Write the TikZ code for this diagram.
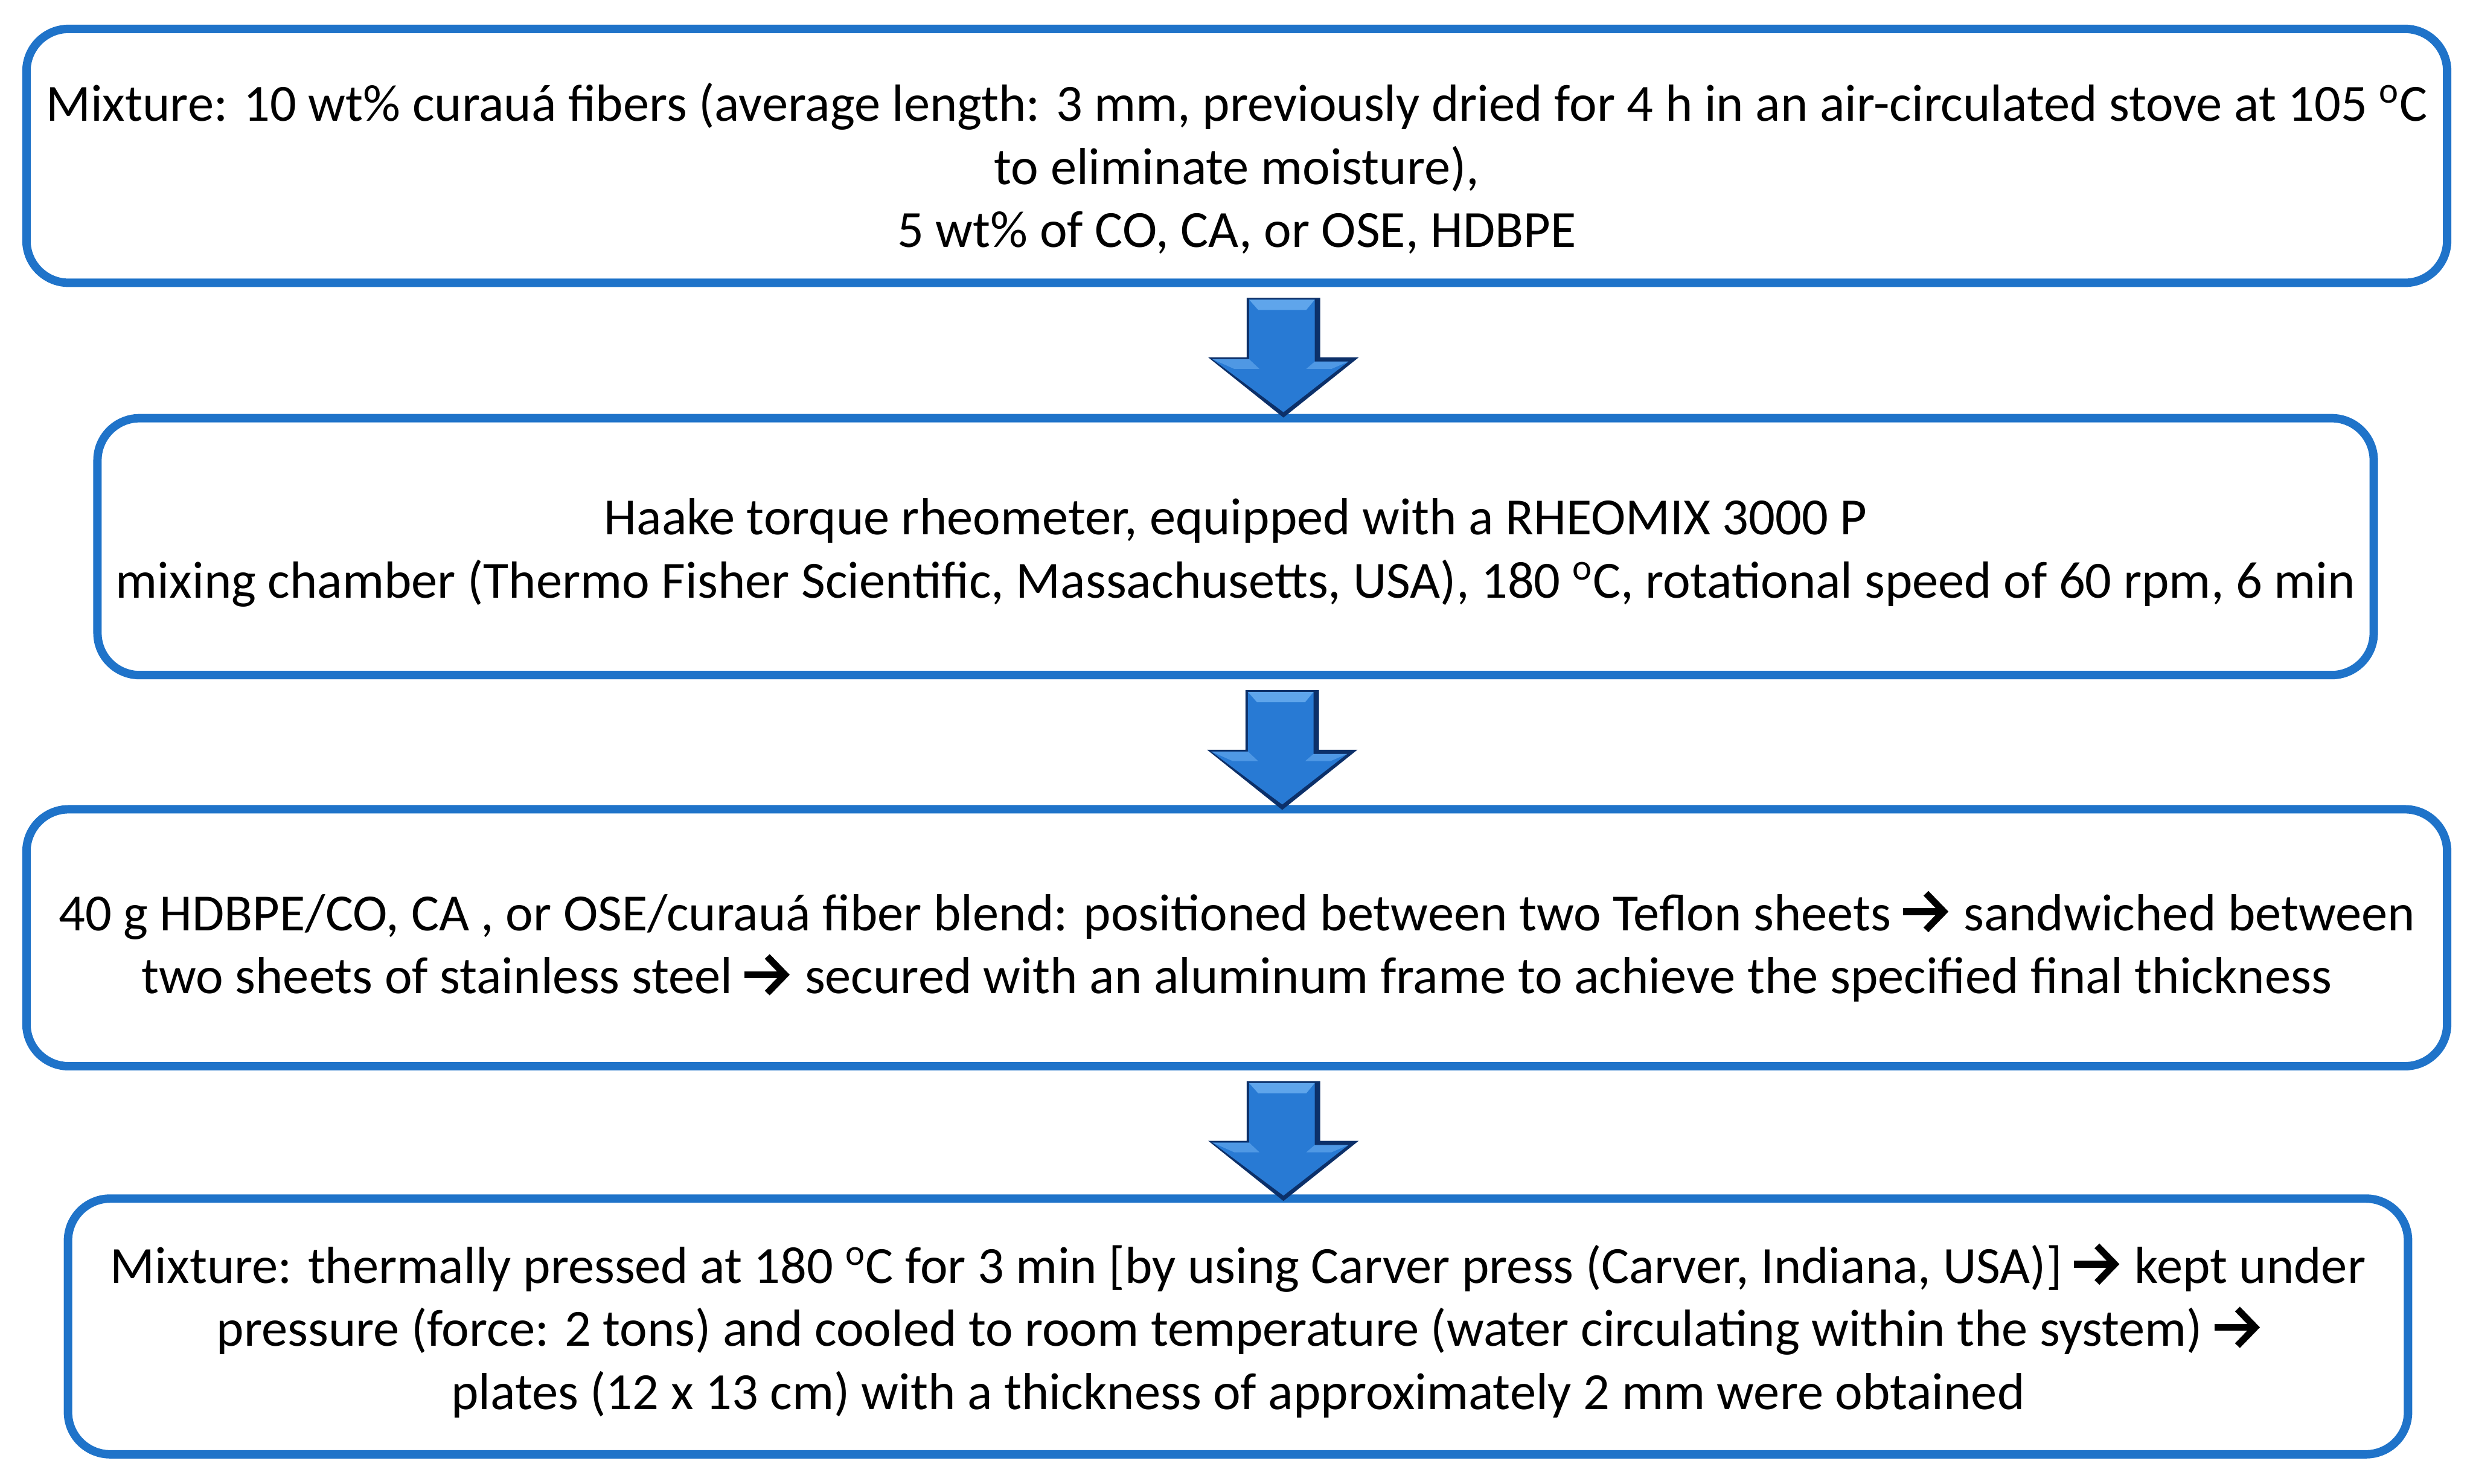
\documentclass[tikz,border=0pt]{standalone}
\usepackage{fontspec}
\setmainfont{Carlito}
\usetikzlibrary{calc}
\definecolor{boxblue}{RGB}{31,115,201}
\definecolor{arrdark}{RGB}{12,48,105}
\definecolor{arrmid}{RGB}{40,122,212}
\definecolor{arrlight}{RGB}{95,165,235}
\newcommand{\ra}{\mbox{\tikz[baseline=0pt,x=1pt,y=1pt]{%
  \path[use as bounding box] (0,0) rectangle (0.86em,0.72em);
  \draw[line width=0.13em] (0,0.36em) -- (0.72em,0.36em);
  \draw[line width=0.13em] (0.44em,0.71em) -- (0.78em,0.36em) -- (0.44em,0.01em);}}\hspace{0.3em}}
\newcommand{\degC}{\textsuperscript{o}C}
\begin{document}
\begin{tikzpicture}[x=0.25pt,y=-0.25pt,
  flowbox/.style={draw=boxblue, line width=3.5pt, rounded corners=17.5pt, inner sep=0pt},
  flowtext/.style={align=center, inner sep=0pt, font=\fontsize{21.7}{26.25}\selectfont}]
\useasboundingbox (0,0) rectangle (4110,2466);
\node[flowbox, minimum width=1005.75pt, minimum height=105.5pt] (b1) at (2055.5,259) {};
\node[flowtext] (t1) at ($(b1.center)+(0,21)$)
 {Mixture: 10 wt\% curauá fibers (average length: 3 mm, previously dried for 4 h in an air-circulated stove at 105 \degC\\
  to eliminate moisture),\\
  5 wt\% of CO, CA, or OSE, HDBPE};
\node[flowbox, minimum width=945.75pt, minimum height=106.75pt] (b2) at (2053.5,908.5) {};
\node[flowtext] (t2) at ($(b2.center)+(0,10)$)
 {Haake torque rheometer, equipped with a RHEOMIX 3000 P\\
  mixing chamber (Thermo Fisher Scientific, Massachusetts, USA), 180 \degC, rotational speed of 60 rpm, 6 min};
\node[flowbox, minimum width=1005.75pt, minimum height=106.75pt] (b3) at (2055.5,1558.5) {};
\node[flowtext] (t3) at ($(b3.center)+(0,16)$)
 {40 g HDBPE/CO, CA , or OSE/curauá fiber blend: positioned between two Teflon sheets \ra sandwiched between\\
  two sheets of stainless steel \ra secured with an aluminum frame to achieve the specified final thickness};
\node[flowbox, minimum width=972.25pt, minimum height=106.25pt] (b4) at (2057.5,2204.5) {};
\node[flowtext] (t4) at ($(b4.center)+(0,8)$)
 {Mixture: thermally pressed at 180 \degC{} for 3 min [by using Carver press (Carver, Indiana, USA)] \ra kept under\\
  pressure (force: 2 tons) and cooled to room temperature (water circulating within the system) \ra\\
  plates (12 x 13 cm) with a thickness of approximately 2 mm were obtained};
\foreach \a/\b [count=\i] in {b1/b2,b2/b3,b3/b4} {
  \coordinate (a\i) at ($(\a.south)+(77.5,18)$);
  \begin{scope}[shift={(a\i)}]
    \fill[arrdark] (-61,0) -- (61,0) -- (61,99) -- (125,99) -- (0,199) -- (-125,99) -- (-61,99) -- cycle;
    \fill[arrmid] (-57,3) -- (52,3) -- (52,106) -- (108,106) -- (0,190) -- (-118,102) -- (-57,102) -- cycle;
    \fill[arrlight] (-57,3) -- (52,3) -- (38,20) -- (-42,20) -- cycle;
    \fill[arrlight!70!arrmid] (-118,102) -- (-57,102) -- (-40,118) -- (-82,118) -- cycle;
    \fill[arrlight!70!arrmid] (108,106) -- (52,106) -- (38,118) -- (80,118) -- cycle;
  \end{scope}
}
\end{tikzpicture}
\end{document}
